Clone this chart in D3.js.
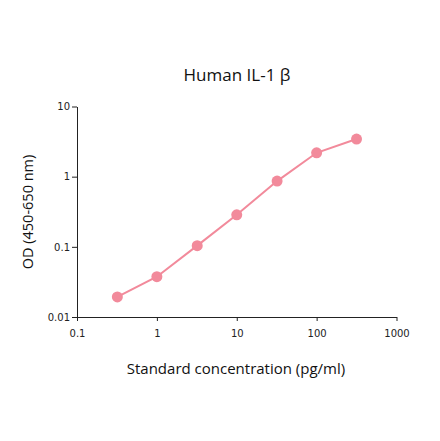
<!DOCTYPE html>
<html>
<head>
<meta charset="utf-8">
<script src="https://cdn.jsdelivr.net/npm/d3@7"></script>
<style>
  body { margin: 0; background: #fff; }
  svg { display: block; }
</style>
</head>
<body>
<div id="chart"></div>
<script>
// 标准曲线数据 (pg/ml -> OD)
var concentration = [0.32, 1, 3.2, 10, 32, 100, 316];
var odValues = [0.0193, 0.0375, 0.104, 0.286, 0.865, 2.19, 3.44];
var xTickValues = [0.1, 1, 10, 100, 1000];
var yTickValues = [0.01, 0.1, 1, 10];
var chartTitle = 'Human IL-1 β';
var xTitle = 'Standard concentration (pg/ml)';
var yTitle = 'OD (450-650 nm)';

var W = 440, H = 441;
var lineColor = '#f28a9b';

var svg = d3.select('#chart').append('svg')
  .attr('width', W).attr('height', H);

var x = d3.scaleLog().domain([0.1, 1000]).range([77, 396.5]);
var y = d3.scaleLog().domain([0.01, 10]).range([317, 106.5]);

// minor ticks: 2..9 of each decade
function minorTicks(scale) {
  var d = scale.domain(), out = [];
  for (var p = Math.round(Math.log10(d[0])); p < Math.round(Math.log10(d[1])); p++) {
    for (var k = 2; k <= 9; k++) out.push(k * Math.pow(10, p));
  }
  return out;
}

var fmt = function(v){ return String(+v.toPrecision(3)); };

// x axis
var gx = svg.append('g').attr('transform', 'translate(0,' + y(0.01) + ')');
gx.call(d3.axisBottom(x).tickValues(minorTicks(x)).tickSize(2.5).tickFormat(''));
gx.call(d3.axisBottom(x).tickValues(xTickValues).tickSize(4).tickSizeOuter(0).tickPadding(9).tickFormat(fmt));

// y axis
var gy = svg.append('g').attr('transform', 'translate(' + x(0.1) + ',0)');
gy.call(d3.axisLeft(y).tickValues(minorTicks(y)).tickSize(3).tickFormat(''));
gy.call(d3.axisLeft(y).tickValues(yTickValues).tickSize(5).tickSizeOuter(0).tickPadding(2).tickFormat(fmt));

svg.selectAll('.domain').attr('stroke', '#222').attr('stroke-width', 1);
svg.selectAll('.tick line').attr('stroke', '#222').attr('stroke-width', 1);
svg.selectAll('.tick text')
  .attr('fill', '#222')
  .style('font-family', '"DejaVu Sans", Verdana, sans-serif')
  .style('font-size', '10px');

// 曲线
var line = d3.line()
  .x(function(d){ return x(d[0]); })
  .y(function(d){ return y(d[1]); });
var pts = d3.zip(concentration, odValues);

svg.append('path')
  .datum(pts)
  .attr('d', line)
  .attr('fill', 'none')
  .attr('stroke', lineColor)
  .attr('stroke-width', 2);

svg.selectAll('circle.pt')
  .data(pts)
  .enter().append('circle')
  .attr('class', 'pt')
  .attr('cx', function(d){ return x(d[0]); })
  .attr('cy', function(d){ return y(d[1]); })
  .attr('r', 5.5)
  .attr('fill', lineColor);

// titles
svg.append('text')
  .attr('x', 237).attr('y', 81)
  .attr('text-anchor', 'middle')
  .style('font-family', '"Open Sans", sans-serif')
  .style('font-size', '17px')
  .attr('fill', '#111')
  .text(chartTitle);

svg.append('text')
  .attr('x', 236).attr('y', 374)
  .attr('text-anchor', 'middle')
  .style('font-family', '"Open Sans", sans-serif')
  .style('font-size', '15px')
  .attr('fill', '#111')
  .text(xTitle);

svg.append('text')
  .attr('transform', 'translate(33,212) rotate(-90)')
  .attr('text-anchor', 'middle')
  .style('font-family', '"Open Sans", sans-serif')
  .style('font-size', '14.5px')
  .attr('fill', '#111')
  .text(yTitle);
</script>
</body>
</html>
